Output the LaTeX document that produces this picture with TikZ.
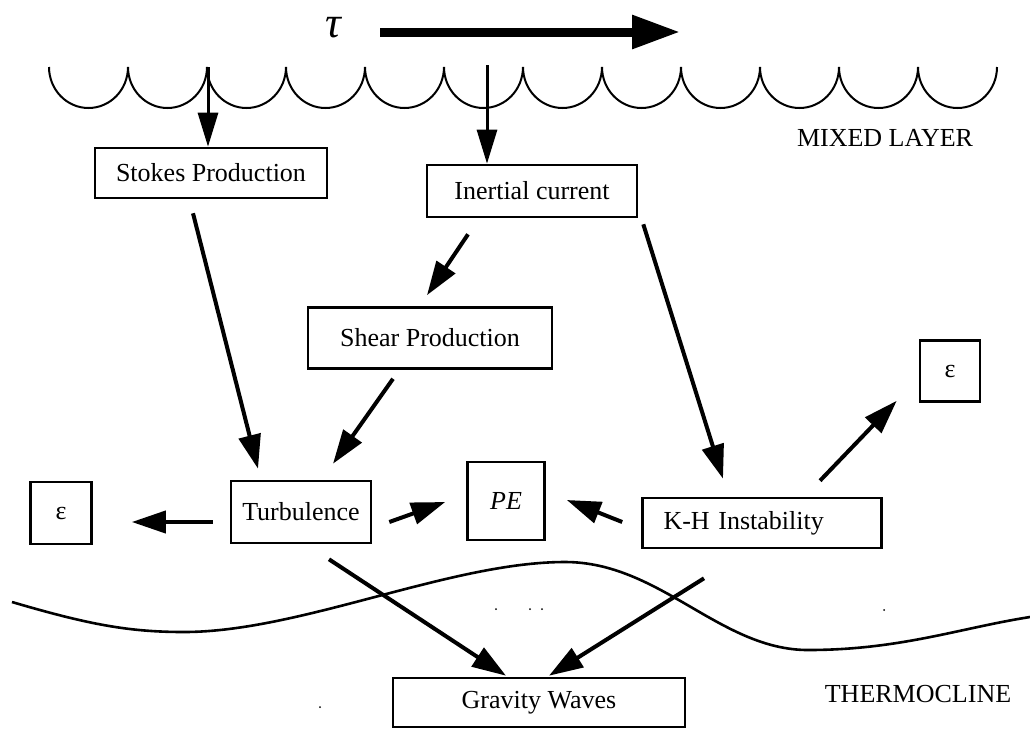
\documentclass[tikz,border=0pt]{standalone}
\usepackage{fontspec}
\setmainfont{Liberation Serif}
\usetikzlibrary{arrows.meta, positioning, calc}

\newcommand{\figfont}{\fontsize{26}{30}\selectfont}

\begin{document}
\begin{tikzpicture}[x=1pt, y=-1pt, font=\figfont, >=Triangle]
\tikzset{
  box/.style={draw, line width=2.6pt, inner sep=0pt},
  flow/.style={-{Triangle[length=34pt,width=22pt]}, line width=4pt},
  feed/.style={-{Triangle[length=34pt,width=20pt]}, line width=3pt},
  speck/.style={fill, circle, inner sep=0pt, minimum size=2pt},
}
\useasboundingbox (0,0) rectangle (1030,729);

% sea surface
\foreach \i in {0,...,11}
  \draw[line width=2pt] (49+\i*79,67) arc[start angle=180, end angle=0, x radius=39.5, y radius=41];

% thermocline
\draw[line width=2.6pt] (12,602) .. controls (90,625) and (130,632) .. (184,632)
  .. controls (300,632) and (450,562) .. (565,562)
  .. controls (660,562) and (720,650) .. (808,650)
  .. controls (900,650) and (960,628) .. (1030,617);

% wind stress
\node[inner sep=0pt, font=\fontsize{44}{44}\selectfont\itshape] (tau) at (333,28) {τ};
\coordinate (windstart) at (380,32);
\coordinate (windend) at (680,32);
\draw[line width=9pt, -{Triangle[length=48pt,width=32pt]}] (windstart) -- (windend);

\coordinate (surfA) at (208,67);
\coordinate (surfB) at (487,65);

\node[box, minimum width=232pt, minimum height=50pt] (stokes) at (211,173) {Stokes Production};
\node[box, minimum width=210pt, minimum height=52pt] (inertial) at (532,191) {Inertial current};
\node[box, minimum width=244pt, minimum height=61pt] (shear) at (430,338) {Shear Production};
\node[box, minimum width=60pt, minimum height=61pt] (epsR) at (950,371) {ε};
\node[box, minimum width=140pt, minimum height=62pt] (turb) at (301,512) {Turbulence};
\node[box, minimum width=77pt, minimum height=78pt] (pe) at (506,501) {\textit{PE}};
\node[box, minimum width=61pt, minimum height=62pt] (epsL) at (61,513) {ε};
\node[box, text width=197pt, inner xsep=21pt, minimum height=50pt, align=left] (kh) at (762,523) {K-H Instability};
\node[box, minimum width=292pt, minimum height=49pt] (gravity) at (539,702.5) {Gravity Waves};

\node (mixed) at (885,138) {MIXED LAYER};
\node (thermo) at (918,694) {THERMOCLINE};

% connectors
\draw[feed] (surfA) -- ([xshift=-3pt]stokes.north);
\draw[feed] (surfB) -- ([xshift=-45pt]inertial.north);
\draw[flow] ([xshift=-18pt,yshift=-14pt]stokes.south) -- ([xshift=-43pt,yshift=11pt]turb.north);
\draw[flow] ([xshift=-64pt,yshift=-16pt]inertial.south) -- ([xshift=-3pt,yshift=11pt]shear.north);
\draw[flow] ([xshift=-37pt,yshift=-9pt]shear.south) -- ([xshift=32pt,yshift=16pt]turb.north);
\draw[flow] ([xshift=5pt,yshift=-6pt]inertial.south east) -- ([xshift=-39pt,yshift=18pt]kh.north);
\draw[flow] ([xshift=58pt,yshift=16pt]kh.north) -- ([xshift=-22pt,yshift=2pt]epsR.south west);
\draw[flow] ([xshift=-17pt,yshift=-10pt]turb.west) -- ([xshift=39pt,yshift=-9pt]epsL.east);
\draw[flow] ([xshift=17pt,yshift=-10pt]turb.east) -- ([xshift=-21pt,yshift=-1pt]pe.west);
\draw[flow] ([xshift=-19pt,yshift=1pt]kh.west) -- ([xshift=21pt,yshift=1pt]pe.east);
\draw[flow] ([xshift=28pt,yshift=-15pt]turb.south) -- ([xshift=-33pt,yshift=1pt]gravity.north);
\draw[flow] ([xshift=-58pt,yshift=-29pt]kh.south) -- ([xshift=10pt,yshift=1pt]gravity.north);

% specks
\node[speck] (sa) at (496,609) {};
\node[speck] (sb) at (530,609) {};
\node[speck] (sc) at (542,609) {};
\node[speck] (sd) at (884,610) {};
\node[speck] (se) at (320,707) {};
\end{tikzpicture}
\end{document}
